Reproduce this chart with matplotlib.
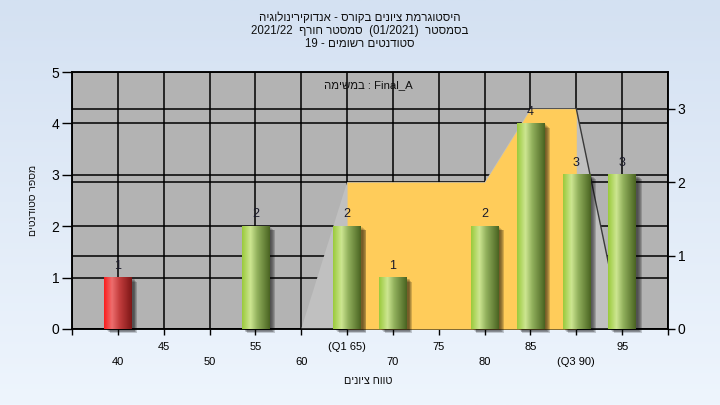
import numpy as np
import matplotlib
matplotlib.use("Agg")
import matplotlib.pyplot as plt
import matplotlib.transforms as mtransforms
from matplotlib.patches import Rectangle

plt.rcParams['font.family'] = ['Liberation Sans', 'DejaVu Sans']

# ---------------- data ----------------
categories = [40, 45, 50, 55, 60, 65, 70, 75, 80, 85, 90, 95]
counts = [1, 0, 0, 2, 0, 2, 1, 0, 2, 4, 3, 3]
bar_kind = ['fail', 'pass', 'pass', 'pass', 'pass', 'pass', 'pass', 'pass', 'pass', 'pass', 'pass', 'pass']
tick_labels = ['40', '45', '50', '55', '60', '(Q1 65)', '70', '75', '80', '85', '(Q3 90)', '95']
area_x = [60, 65, 70, 75, 80, 85, 90, 95]
area_y = [0, 2, 2, 2, 2, 3, 3, 0]
q1, q3 = 65, 90

# texts in visual (left-to-right display) order, as the Hebrew appears on screen
title_lines = ['היגולוניריקודנא - סרוקב םינויצ תמרגוטסיה',
               '2021/22  ףרוח רטסמס  (01/2021)  רטסמסב',
               '19 - םימושר םיטנדוטס']
legend_text = 'המישמב : Final_A'
ylabel = 'םיטנדוטס רפסמ'
xlabel = 'םינויצ חווט'

# ---------------- figure ----------------
fig = plt.figure(figsize=(7.2, 4.05), dpi=100)

bgax = fig.add_axes([0, 0, 1, 1])
bgax.set_zorder(-5)
top = np.array([212, 225, 242]) / 255
bot = np.array([238, 245, 253]) / 255
t = np.linspace(0, 1, 200)[:, None]
grad = top[None, :] * (1 - t) + bot[None, :] * t
bgax.imshow(grad[:, None, :], aspect='auto', extent=[0, 1, 0, 1])
bgax.axis('off')

L, R, B, T = 72 / 720, 668 / 720, 1 - 329 / 405, 1 - 72 / 405
ax = fig.add_axes([L, B, R - L, T - B])
ax.set_zorder(1)
ax.set_facecolor('#b3b3b3')
ax2 = ax.twinx()
ax2.set_zorder(2)
ax2.patch.set_visible(False)
ax3 = fig.add_axes([L, B, R - L, T - B], sharex=ax, sharey=ax)
ax3.set_zorder(3)
ax3.patch.set_visible(False)
ax3.axis('off')

xmin, xmax = 35, 100
ymax_left, ymax_right = 5, 3.5

# grid on main axes
ax.set_axisbelow(True)
ax.grid(True, color='black', linewidth=1.1)
ax2.set_axisbelow(True)
ax2.grid(True, axis='y', color='black', linewidth=1.1)
ax2.grid(False, axis='x')

# area on right axis
ax2.fill(area_x + [area_x[0]], area_y + [0], color='#c0c0c0', zorder=2, linewidth=0)
xa = np.array(area_x, float)
ya = np.array(area_y, float)
mask = (xa >= q1) & (xa <= q3)
ax2.fill_between(xa[mask], 0, ya[mask], color='#ffcc5a', zorder=3, linewidth=0)
i3 = area_x.index(q3)
ax2.plot(area_x[i3:i3 + 2], area_y[i3:i3 + 2], color='#3a3a3a', linewidth=1.0, zorder=4)

# bars with cylinder gradient
def gradient(stops, n=64):
    pos = [s[0] for s in stops]
    cols = np.array([s[1] for s in stops]) / 255
    xs = np.linspace(0, 1, n)
    return np.stack([np.interp(xs, pos, cols[:, c]) for c in range(3)], axis=1)

green = gradient([(0, (155, 202, 60)), (0.3, (205, 230, 145)), (0.55, (145, 176, 92)), (1, (74, 100, 34))])
red = gradient([(0, (250, 30, 30)), (0.28, (238, 110, 110)), (0.55, (196, 62, 62)), (1, (125, 22, 22))])

w = 3.0
for x, c, k in zip(categories, counts, bar_kind):
    if c <= 0:
        continue
    g = red if k == 'fail' else green
    for j, a in enumerate([0.10, 0.12, 0.14, 0.16, 0.18]):
        off = mtransforms.offset_copy(ax3.transData, fig=fig, x=2 + j * 0.9, y=-(1 + j * 0.8), units='dots')
        ax3.add_patch(Rectangle((x - w / 2, 0), w, c, facecolor='black', alpha=a,
                                linewidth=0, transform=off, zorder=2, clip_on=False))
    ax3.imshow(g[None, :, :], extent=(x - w / 2, x + w / 2, 0, c), aspect='auto',
               interpolation='bilinear', zorder=3)
    ax3.annotate(str(c), (x, c), xytext=(0, 8.5), textcoords='offset points',
                 ha='center', va='center', fontsize=9, color='#1a1a2a', zorder=5)

ax3.text((368 - 72) / 596, (329 - 85) / 257, legend_text, transform=ax3.transAxes,
         ha='center', va='center', fontsize=8.2, color='#101010')

# axes setup
ax.set_xlim(xmin, xmax)
ax.set_ylim(0, ymax_left)
ax2.set_ylim(0, ymax_right)
ax.set_xticks([xmin] + categories + [xmax])
labels = [''] + [('' if i % 2 else '\n') + s for i, s in enumerate(tick_labels)] + ['']
ax.set_xticklabels(labels, fontsize=8, linespacing=1.65)
ax.set_yticks(range(0, ymax_left + 1))
ax2.set_yticks(range(0, 4))
ax.tick_params(axis='x', direction='out', length=4, width=1, pad=5, colors='black')
ax.tick_params(axis='y', direction='out', length=7, width=1, labelsize=10, pad=2)
ax2.tick_params(axis='y', direction='out', length=5, width=1, labelsize=10, pad=2)
for s in ax.spines.values():
    s.set_color('black')
    s.set_linewidth(1.1)
for s in ax2.spines.values():
    s.set_color('black')
    s.set_linewidth(1.1)

# titles
for i, line in enumerate(title_lines):
    fig.text(360 / 720, 1 - (18 + 13 * i) / 405, line, ha='center', va='center', fontsize=8.3, color='#101010')
fig.text(33 / 720, 1 - 200 / 405, ylabel, rotation=90, ha='center', va='center', fontsize=7.5, color='#101010')
fig.text(368 / 720, 1 - 381 / 405, xlabel, ha='center', va='center', fontsize=7.8, color='#101010')

fig.savefig('out.png', dpi=100)
